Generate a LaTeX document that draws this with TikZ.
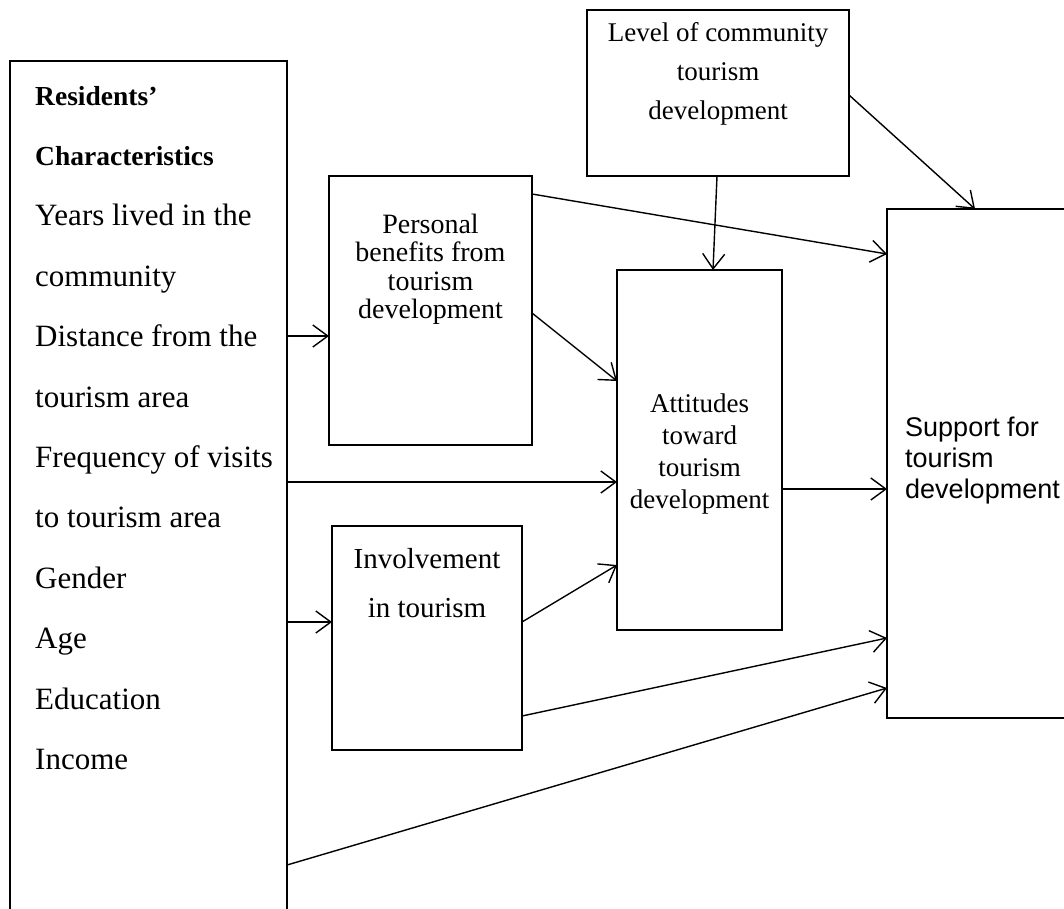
\documentclass[tikz,border=0pt]{standalone}
\usepackage{fontspec}
\setmainfont{Liberation Serif}
\newfontfamily\arialfont{Liberation Sans}
\usetikzlibrary{arrows.meta}
\begin{document}
\begin{tikzpicture}[x=1pt,y=-1pt,
  box/.style={draw, line width=1.3pt, inner sep=0pt},
  conn/.style={line width=1.4pt, -{Straight Barb[length=15pt,width=22pt]}},
  txt/.style={inner sep=0pt, align=center},
  restxt/.style={inner sep=0pt, anchor=base west, font=\fontsize{31}{34}\selectfont},
  reshead/.style={restxt, font=\fontsize{27.5}{30}\selectfont\bfseries}]
\useasboundingbox (0,0) rectangle (1064,908);
% boxes
\node[box, minimum width=277pt, minimum height=900pt] (res) at (148.5,511) {};
\node[box, minimum width=262pt, minimum height=166pt] (level) at (718,93) {};
\node[box, minimum width=203pt, minimum height=269pt] (pers) at (430.5,310.5) {};
\node[box, minimum width=190pt, minimum height=224pt] (inv) at (427,638) {};
\node[box, minimum width=165pt, minimum height=360pt] (att) at (699.5,450) {};
\node[box, minimum width=220pt, minimum height=509pt] (sup) at (997,463.5) {};
% texts
\node[reshead] (r1) at (35,105) {Residents’};
\node[reshead] (r2) at (35,165.4) {Characteristics};
\node[restxt] (r3) at (35,225.8) {Years lived in the};
\node[restxt] (r4) at (35,286.2) {community};
\node[restxt] (r5) at (35,346.6) {Distance from the};
\node[restxt] (r6) at (35,407) {tourism area};
\node[restxt] (r7) at (35,467.4) {Frequency of visits};
\node[restxt] (r8) at (35,527.8) {to tourism area};
\node[restxt] (r9) at (35,588.2) {Gender};
\node[restxt] (r10) at (35,648.6) {Age};
\node[restxt] (r11) at (35,709) {Education};
\node[restxt] (r12) at (35,769.4) {Income};
\node[txt, font=\fontsize{27}{39}\selectfont] (leveltxt) at (718,74) {Level of community\\tourism\\development};
\node[txt, font=\fontsize{28}{28.5}\selectfont] (perstxt) at (430.5,269.5) {Personal\\benefits from\\tourism\\development};
\node[txt, font=\fontsize{29}{49}\selectfont] (invtxt) at (427,583.5) {Involvement\\in tourism};
\node[txt, font=\fontsize{27}{32}\selectfont] (atttxt) at (699.5,454) {Attitudes\\toward\\tourism\\development};
\node[txt, align=left, anchor=west, font=\arialfont\fontsize{27}{31}\selectfont] (suptxt) at (905,461) {Support for\\tourism\\development};
% connector ends
\coordinate (a1) at (287,336);   \coordinate (b1) at (329,336);
\coordinate (a2) at (287,482);   \coordinate (b2) at (617,482);
\coordinate (a3) at (287,622);   \coordinate (b3) at (332,622);
\coordinate (a4) at (287,865);   \coordinate (b4) at (887,688);
\coordinate (a5) at (532,194);   \coordinate (b5) at (887,254);
\coordinate (a6) at (532,313);   \coordinate (b6) at (617,381);
\coordinate (a7) at (522,622);   \coordinate (b7) at (617,565);
\coordinate (a8) at (522,716);   \coordinate (b8) at (887,638);
\coordinate (a9) at (782,489);   \coordinate (b9) at (887,489);
\coordinate (a10) at (717,176);  \coordinate (b10) at (713,270);
\coordinate (a11) at (849,95);   \coordinate (b11) at (975,209);
\foreach \i in {1,...,11} {\draw[conn] (a\i) -- (b\i);}
\end{tikzpicture}
\end{document}
